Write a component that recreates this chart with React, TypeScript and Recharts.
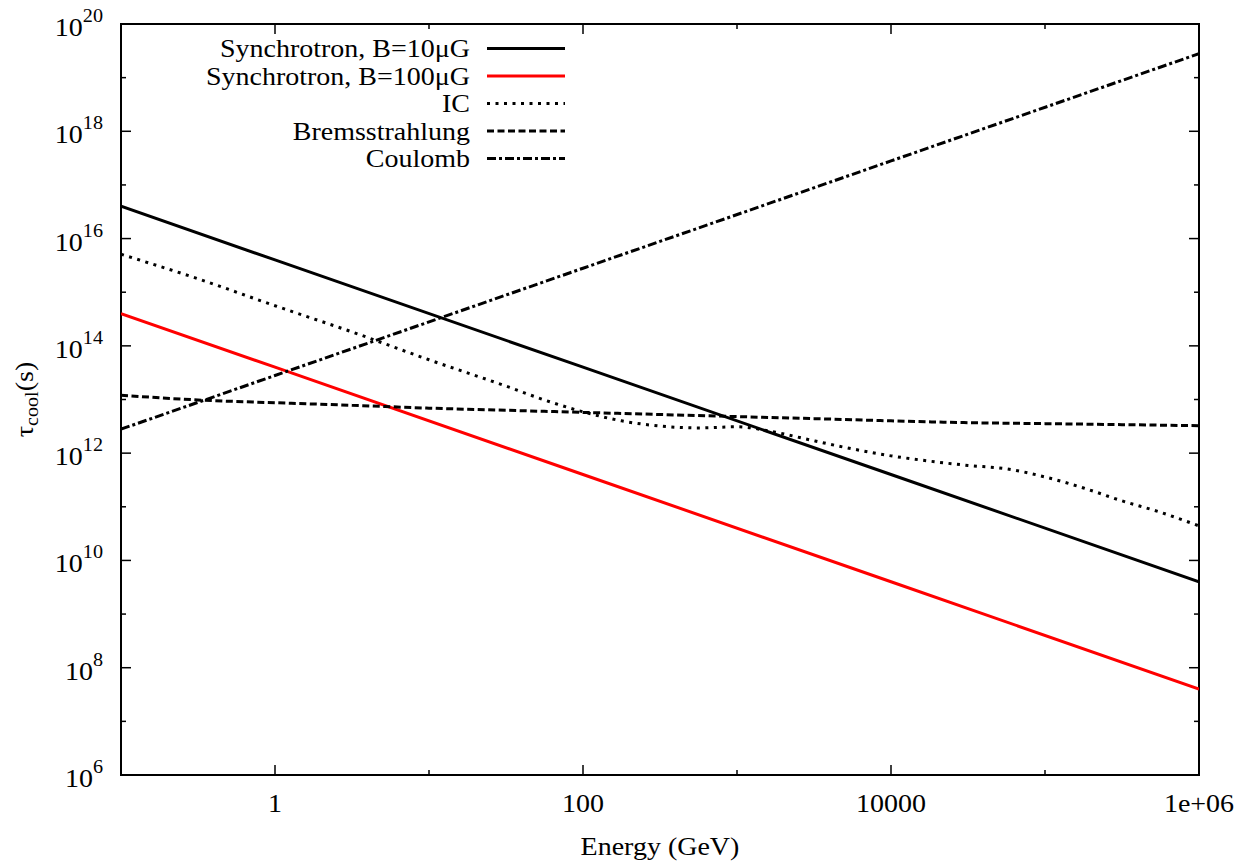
import React from 'react';
import { LineChart, Line, XAxis, YAxis, ReferenceArea, Legend } from 'recharts';

const CHART_W = 1251;
const CHART_H = 863;
const PLOT_LEFT = 121;
const PLOT_RIGHT = 1199;
const PLOT_TOP = 24;
const PLOT_BOTTOM = 775;
const FONT = "Liberation Serif, Times New Roman, serif";
const FS = 25;
const SUB_FS = 18;
const SX = 1.12;

// axis ticks
const xTicks = [0.1, 1, 10, 100, 1000, 10000, 100000, 1000000];
const xTickLabels = ['', '1', '', '100', '', '10000', '', '1e+06'];
const yTicks = [1e6, 1e7, 1e8, 1e9, 1e10, 1e11, 1e12, 1e13, 1e14, 1e15, 1e16, 1e17, 1e18, 1e19, 1e20];
const yTickExponents = ['6', '', '8', '', '10', '', '12', '', '14', '', '16', '', '18', '', '20'];

// series data (energy in GeV, cooling time in s)
const synchEnergy = [0.1, 1, 100, 10000, 1000000];
const synch10uG = [4.0e16, 4.0e15, 4.0e13, 4.0e11, 4.0e9];
const synch100uG = [4.0e14, 4.0e13, 4.0e11, 4.0e9, 4.0e7];

const icEnergy = [0.1, 0.316, 1, 3.16, 10, 31.6, 56.2, 100, 178, 316, 562, 1000, 1780, 3160, 5620, 10000, 17800, 31600, 56200, 100000, 178000, 316000, 562000, 1000000];
const icTau = [5.1e15, 1.78e15, 5.6e14, 1.82e14, 5.5e13, 1.78e13, 9.8e12, 5.9e12, 4.0e12, 3.2e12, 2.95e12, 3.1e12, 2.45e12, 1.7e12, 1.2e12, 8.9e11, 7.1e11, 5.9e11, 5.1e11, 3.6e11, 2.24e11, 1.29e11, 7.9e10, 4.4e10];

const bremsEnergy = [0.1, 0.316, 1, 3.16, 10, 31.6, 100, 316, 1000, 3160, 10000, 31600, 100000, 316000, 1000000];
const bremsTau = [1.2e13, 9.8e12, 8.7e12, 7.8e12, 6.9e12, 6.3e12, 5.75e12, 5.25e12, 4.8e12, 4.4e12, 4.0e12, 3.7e12, 3.55e12, 3.4e12, 3.25e12];

const coulombEnergy = [0.1, 1, 100, 10000, 1000000];
const coulombTau = [2.8e12, 2.8e13, 2.8e15, 2.8e17, 2.8e19];

const seriesNames = ['Synchrotron, B=10μG', 'Synchrotron, B=100μG', 'IC', 'Bremsstrahlung', 'Coulomb'];

const toPoints = (es: number[], vs: number[]) => es.map((e, i) => ({ e, v: vs[i] }));

const series = [
  { name: seriesNames[0], data: toPoints(synchEnergy, synch10uG), color: '#000000', dash: undefined as string | undefined, type: 'linear' },
  { name: seriesNames[1], data: toPoints(synchEnergy, synch100uG), color: '#ff0000', dash: undefined as string | undefined, type: 'linear' },
  { name: seriesNames[2], data: toPoints(icEnergy, icTau), color: '#000000', dash: '3 5.5', type: 'monotone' },
  { name: seriesNames[3], data: toPoints(bremsEnergy, bremsTau), color: '#000000', dash: '7 3.5', type: 'monotone' },
  { name: seriesNames[4], data: toPoints(coulombEnergy, coulombTau), color: '#000000', dash: '9 3 3 3', type: 'linear' },
];

const findIndex = (arr: number[], v: number) => {
  let best = 0;
  let bd = Infinity;
  arr.forEach((a, i) => {
    const d = Math.abs(Math.log10(a) - Math.log10(v));
    if (d < bd) { bd = d; best = i; }
  });
  return best;
};

// Serif text, slightly widened horizontally like the reference rendering
const SText = (p: { x: number; y: number; anchor?: string; rotate?: number; children: React.ReactNode; baseline?: string }) => (
  <g transform={`translate(${p.x},${p.y}) rotate(${p.rotate || 0}) scale(${SX},1)`}>
    <text
      x={0}
      y={0}
      textAnchor={(p.anchor || 'start') as any}
      dominantBaseline={p.baseline as any}
      fontFamily={FONT}
      fontSize={FS}
      fill="#000"
      style={{ fontFamily: FONT }}
    >
      {p.children}
    </text>
  </g>
);

const XTick = (props: any) => {
  const { x, y, payload } = props;
  const i = findIndex(xTicks, payload.value);
  const label = xTickLabels[i];
  const len = label ? 10 : 5;
  return (
    <g>
      <line x1={x} x2={x} y1={y} y2={y - len} stroke="#000" strokeWidth={1.5} />
      <line x1={x} x2={x} y1={PLOT_TOP} y2={PLOT_TOP + len} stroke="#000" strokeWidth={1.5} />
      {label ? <SText x={x} y={y + 37} anchor="middle">{label}</SText> : null}
    </g>
  );
};

const YTick = (props: any) => {
  const { x, y, payload } = props;
  const i = findIndex(yTicks, payload.value);
  const exp = yTickExponents[i];
  const len = exp ? 10 : 5;
  return (
    <g>
      <line x1={x} x2={x + len} y1={y} y2={y} stroke="#000" strokeWidth={1.5} />
      <line x1={PLOT_RIGHT} x2={PLOT_RIGHT - len} y1={y} y2={y} stroke="#000" strokeWidth={1.5} />
      {exp ? (
        <SText x={x - 18} y={y + 12} anchor="end">
          10
          <tspan dy={-14} fontSize={SUB_FS}>{exp}</tspan>
        </SText>
      ) : null}
    </g>
  );
};

const YLabel = (props: any) => {
  const vb = props.viewBox || { x: 21, y: PLOT_TOP, width: 100, height: PLOT_BOTTOM - PLOT_TOP };
  const cx = vb.x + 4;
  const cy = vb.y + vb.height / 2;
  return (
    <SText x={cx} y={cy} rotate={-90} anchor="middle" baseline="central">
      τ
      <tspan dy={6} fontSize={SUB_FS}>cool</tspan>
      <tspan dy={-6}>(s)</tspan>
    </SText>
  );
};

const XLabel = (props: any) => {
  const vb = props.viewBox || { x: PLOT_LEFT, y: PLOT_BOTTOM, width: PLOT_RIGHT - PLOT_LEFT, height: CHART_H - PLOT_BOTTOM };
  return (
    <SText x={vb.x + vb.width / 2} y={vb.y + vb.height - 8} anchor="middle">
      Energy (GeV)
    </SText>
  );
};

const LegendBox = () => (
  <svg width={440} height={160} style={{ display: 'block', overflow: 'visible' }}>
    {series.map((s, i) => {
      const cy = 18.5 + i * 27.5;
      return (
        <g key={s.name}>
          <SText x={290} y={cy + 8.5} anchor="end">{s.name}</SText>
          <line
            x1={307}
            x2={385}
            y1={cy}
            y2={cy}
            stroke={s.color}
            strokeWidth={3}
            strokeDasharray={s.dash}
          />
        </g>
      );
    })}
  </svg>
);

export default function App() {
  return (
    <div style={{ position: 'absolute', left: 0, top: 0, background: '#fff' }}>
      <LineChart
        width={CHART_W}
        height={CHART_H}
        margin={{ top: PLOT_TOP, right: CHART_W - PLOT_RIGHT, bottom: 0, left: 21 }}
      >
        <XAxis
          dataKey="e"
          type="number"
          scale="log"
          domain={[0.1, 1000000]}
          allowDataOverflow
          ticks={xTicks}
          interval={0}
          height={CHART_H - PLOT_BOTTOM}
          tickSize={0}
          tickMargin={0}
          tickLine={false}
          axisLine={false}
          tick={<XTick />}
          label={<XLabel />}
        />
        <YAxis
          dataKey="v"
          type="number"
          scale="log"
          domain={[1e6, 1e20]}
          allowDataOverflow
          ticks={yTicks}
          interval={0}
          width={PLOT_LEFT - 21}
          tickSize={0}
          tickMargin={0}
          tickLine={false}
          axisLine={false}
          tick={<YTick />}
          label={<YLabel />}
        />
        {series.map((s) => (
          <Line
            key={s.name}
            data={s.data}
            dataKey="v"
            name={s.name}
            type={s.type as any}
            stroke={s.color}
            strokeWidth={3}
            strokeDasharray={s.dash}
            strokeLinecap="butt"
            dot={false}
            activeDot={false}
            isAnimationActive={false}
          />
        ))}
        <ReferenceArea
          x1={0.1}
          x2={1000000}
          y1={1e6}
          y2={1e20}
          fill="none"
          fillOpacity={0}
          stroke="#000"
          strokeWidth={2}
          ifOverflow="visible"
        />
        <Legend
          layout="vertical"
          align="center"
          verticalAlign="middle"
          wrapperStyle={{ position: 'absolute', left: 180, top: 30, width: 440, height: 160 }}
          content={() => <LegendBox />}
        />
      </LineChart>
    </div>
  );
}
